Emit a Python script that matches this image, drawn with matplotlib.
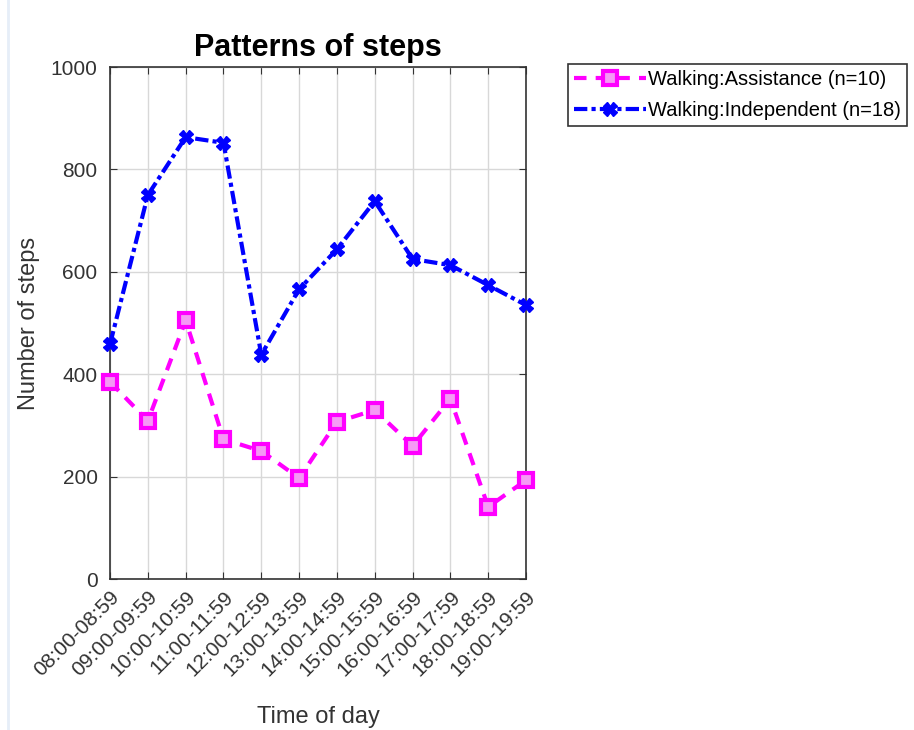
import numpy as np
import matplotlib.pyplot as plt
from matplotlib.lines import Line2D

plt.rcParams['font.family'] = ['Liberation Sans', 'DejaVu Sans']

time_slots = ['08:00-08:59', '09:00-09:59', '10:00-10:59', '11:00-11:59',
              '12:00-12:59', '13:00-13:59', '14:00-14:59', '15:00-15:59',
              '16:00-16:59', '17:00-17:59', '18:00-18:59', '19:00-19:59']
assistance = [385, 309, 505, 273, 250, 197, 307, 330, 260, 352, 141, 193]
independent = [459, 750, 863, 852, 438, 566, 644, 738, 625, 613, 574, 535]
labels = ['Walking:Assistance (n=10)', 'Walking:Independent (n=18)']

fig = plt.figure(figsize=(9.14, 7.3), dpi=100)
ax = fig.add_axes([0.1204, 0.2068, 0.4551, 0.7014])

x = np.arange(len(time_slots))
ax.plot(x, assistance, linestyle=(0, (3, 2.2)), color='#ff00ff', lw=3,
        marker='s', ms=9.5, mec='#ff00ff', mfc='#f59af5', mew=3, label=labels[0],
        clip_on=False, zorder=3)
ax.plot(x, independent, linestyle=(0, (3.2, 1, 1, 1)), color='#0000ff', lw=3,
        marker='X', ms=9.5, mec='#0000ff', mfc='#0000ff', label=labels[1],
        clip_on=False, zorder=3)

ax.set_xlim(0, len(time_slots) - 1)
ax.set_ylim(0, 1000)
ax.set_xticks(x)
ax.set_xticklabels(time_slots, rotation=45, ha='right', rotation_mode='anchor', fontsize=15)
ax.set_yticks(np.arange(0, 1001, 200))
ax.tick_params(axis='y', labelsize=15, pad=9)
ax.tick_params(axis='x', pad=6)
ax.tick_params(direction='in', top=True, right=True, length=5, color='#333333',
               labelcolor='#333333')
ax.grid(True, color='#d8d8d8', lw=1)
for s in ax.spines.values():
    s.set_color('#333333')
    s.set_linewidth(1.2)

ax.set_title('Patterns of steps', fontsize=22, fontweight='bold', color='black', pad=8)
ax.set_ylabel('Number of steps', fontsize=17, color='#333333', labelpad=8)
ax.set_xlabel('Time of day', fontsize=17, color='#333333', labelpad=19)

leg = fig.legend(loc='upper left', bbox_to_anchor=(0.621, 0.913), fontsize=14.5,
                 frameon=True, fancybox=False, edgecolor='black', borderpad=0.3,
                 handlelength=3.6, handletextpad=0.1, labelspacing=0.6, borderaxespad=0)
leg.get_frame().set_linewidth(1.2)

fig.add_artist(Line2D([0.009, 0.009], [0.0, 1.0], color='#e6eef8', lw=2))

fig.savefig('out.png', dpi=100)
